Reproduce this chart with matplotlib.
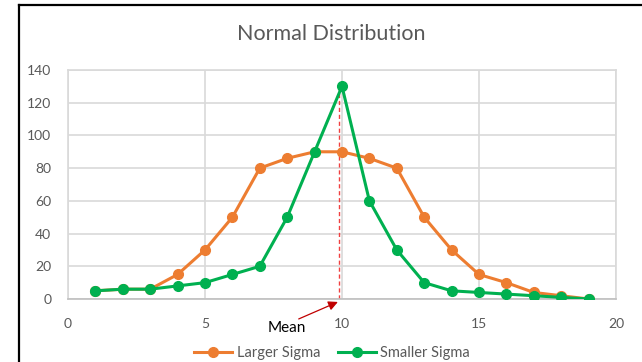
import matplotlib.pyplot as plt
from matplotlib.lines import Line2D

# series values at x = 1..19
x_vals = list(range(1, 20))
larger_sigma = [5, 6, 6, 15, 30, 50, 80, 86, 90, 90, 86, 80, 50, 30, 15, 10, 4, 2, 0]
smaller_sigma = [5, 6, 6, 8, 10, 15, 20, 50, 90, 130, 60, 30, 10, 5, 4, 3, 2, 1, 0]
mean_x = 9.88
mean_top = 130

grey_text = '#595959'
grid_col = '#D9D9D9'
plt.rcParams['font.family'] = ['Lato', 'DejaVu Sans']

fig = plt.figure(figsize=(6.42, 3.62), dpi=100)
ax = fig.add_axes([68 / 642, 63 / 362, 548 / 642, 229 / 362])

ax.plot(x_vals, larger_sigma, color='#ED7D31', lw=2.2, marker='o', ms=7,
        label='Larger Sigma', zorder=3)
ax.plot(x_vals, smaller_sigma, color='#00B050', lw=2.2, marker='o', ms=7,
        label='Smaller Sigma', zorder=4)

# dashed marker for the mean
ax.plot([mean_x, mean_x], [0, mean_top], color='#F04040', lw=1.0,
        ls=(0, (3, 2)), zorder=2)

ax.set_xlim(0, 20)
ax.set_ylim(0, 140)
ax.set_xticks(range(0, 21, 5))
ax.set_yticks(range(0, 141, 20))
ax.grid(True, color=grid_col, lw=1.2)
ax.set_axisbelow(True)
for s in ax.spines.values():
    s.set_color(grid_col)
    s.set_linewidth(1.2)
ax.spines['bottom'].set_color('#BFBFBF')
ax.tick_params(length=0, colors=grey_text, labelsize=10)
ax.tick_params(axis='y', pad=12)
ax.tick_params(axis='x', pad=14)

# "Mean" label with arrow pointing at the dashed line
ax.annotate('', xy=(mean_x - 0.03, -1.8), xytext=(8.42, -12.2),
            textcoords='data', annotation_clip=False,
            arrowprops=dict(arrowstyle='-|>', color='#C00000', lw=0.9,
                            mutation_scale=14, shrinkA=0, shrinkB=0))
ax.text(8.0, -17.5, 'Mean', ha='center', va='center', fontsize=11,
        color='black', clip_on=False)

fig.text(331 / 642, 1 - 34 / 362, 'Normal Distribution', ha='center',
         va='center', fontsize=15.5, color=grey_text)

fig.legend(loc='center', bbox_to_anchor=(332 / 642, 1 - 353 / 362), ncol=2,
           frameon=False, fontsize=10.5, labelcolor=grey_text,
           handlelength=2.6, columnspacing=1.2, handletextpad=0.3)

# chart frame edges
fig.add_artist(Line2D([18.5 / 642, 18.5 / 642], [0, 1 - 5 / 362],
                      transform=fig.transFigure, color='black', lw=1.6))
fig.add_artist(Line2D([18.5 / 642, 1], [1 - 5 / 362, 1 - 5 / 362],
                      transform=fig.transFigure, color='black', lw=1.6))

fig.savefig('out.png', dpi=100)
